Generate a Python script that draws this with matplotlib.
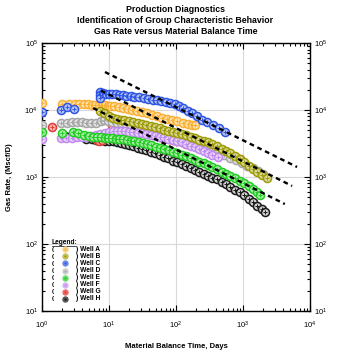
#!/usr/bin/env python3
# -*- coding: utf-8 -*-
"""
Production diagnostics: gas rate versus material balance time, log-log
"""

import matplotlib
matplotlib.use("Agg")
import matplotlib.pyplot as plt
from matplotlib.ticker import LogLocator, NullFormatter

plt.rcParams['font.family'] = ['Liberation Sans', 'DejaVu Sans']
plt.rcParams['mathtext.default'] = 'regular'

# --- data ---
wells = ['Well A', 'Well B', 'Well C', 'Well D', 'Well E', 'Well F', 'Well G', 'Well H']

A_x = [1, 2, 2.5, 3.1, 3.6, 4.2, 4.8, 5.5, 6.2, 7, 7.8, 8.6, 9.5, 10.5, 12, 14,
       16, 19, 22, 26, 31, 37, 44, 52, 62, 74, 88, 105, 125, 150, 175, 195]
A_y = [12700, 12500, 12400, 12300, 12200, 12200, 12100, 12000, 12000, 11900,
       11800, 11700, 11600, 11500, 11300, 11000, 10700, 10400, 10000, 9700, 9300,
       8900, 8500, 8100, 7700, 7400, 7100, 6800, 6500, 6200, 6000, 5900]

B_x = [7.3, 8.5, 10, 11.5, 13, 15, 17, 20, 23, 27, 31, 36, 42, 49, 57, 66, 77, 90,
       105, 122, 142, 165, 192, 224, 260, 300, 350, 410, 480, 560, 650, 760, 890,
       1040, 1210, 1410, 1640, 1920, 2280]
B_y = [9800, 9000, 8000, 7600, 7400, 7200, 7000, 6800, 6600, 6400, 6200, 6000,
       5700, 5500, 5300, 5100, 4900, 4700, 4550, 4400, 4200, 4000, 3800, 3600,
       3450, 3300, 3100, 2900, 2650, 2450, 2250, 2050, 1850, 1650, 1480, 1330,
       1200, 1080, 966]

C_x = [1, 1.9, 2.4, 3.0, 7.3, 7.3, 7.4, 8.2, 9, 10, 11, 12.5, 14, 16, 18, 21, 24,
       28, 33, 38, 45, 52, 60, 70, 81, 95, 110, 127, 150, 175, 205, 244, 290, 356,
       440, 540]
C_y = [9300, 10000, 11100, 10300, 18600, 16500, 15000, 17800, 17500, 17400,
       17300, 17100, 16900, 16700, 16400, 16100, 15800, 15500, 15100, 14700,
       14300, 13900, 13500, 13000, 12700, 12200, 11500, 10700, 9800, 9000, 8100,
       7100, 6600, 6000, 5300, 4700]

D_x = [1, 1.9, 2.4, 2.8, 3.3, 3.9, 4.6, 5.4, 6.4, 7.5, 8.5, 9.5, 11, 13, 15, 18,
       21, 25, 30, 36, 43, 52, 62, 75, 90, 108, 130, 160, 195, 240, 290, 350, 430,
       520, 640, 780, 950, 1150, 1400, 1700, 2000]
D_y = [6000, 6300, 6500, 6600, 6700, 6600, 6500, 6400, 6500, 6800, 7100, 6900,
       6700, 6500, 6300, 6100, 5900, 5700, 5500, 5300, 5100, 4900, 4600, 4400,
       4100, 3900, 3700, 3450, 3200, 3000, 2750, 2550, 2350, 2150, 1950, 1780,
       1620, 1470, 1340, 1220, 1120]

E_x = [1, 2, 2.9, 3.5, 4.2, 5, 5.8, 6.7, 7.6, 8.6, 9.7, 11, 12.5, 14, 16, 18.5,
       21, 24, 28, 32, 37, 43, 50, 58, 67, 78, 90, 105, 122, 142, 165, 192, 224,
       260, 300, 350, 410, 480, 560, 650, 760, 890, 1040, 1210, 1410, 1620, 1790]
E_y = [4700, 4500, 4700, 4500, 4200, 4100, 4000, 3950, 3900, 3850, 3800, 3780,
       3750, 3700, 3650, 3600, 3500, 3400, 3300, 3200, 3100, 3000, 2850, 2750,
       2600, 2500, 2400, 2300, 2150, 2050, 1900, 1800, 1700, 1600, 1500, 1400,
       1300, 1200, 1120, 1040, 960, 880, 800, 730, 660, 590, 535]

F_x = [1, 1.9, 2.3, 2.8, 3.3, 3.9, 4.6, 5.4, 6.3, 7.4, 8.6, 10, 11.5, 13, 15,
       17.5, 20, 23, 27, 31, 36, 42, 49, 57, 66, 77, 90, 105, 122, 142, 165, 192,
       224, 260, 300, 350, 420]
F_y = [3700, 3800, 3800, 3850, 3900, 3950, 4000, 4100, 4200, 4350, 4500, 4700,
       4800, 4850, 4850, 4800, 4750, 4700, 4600, 4500, 4400, 4300, 4150, 4000,
       3900, 3750, 3600, 3450, 3300, 3100, 2950, 2800, 2600, 2450, 2300, 2150, 2000]

G_x = [1.4, 6.6, 7.2, 7.8, 11, 12.5, 14, 16, 18.5, 21, 24, 28, 32, 37, 43, 50,
       58, 67, 78, 90, 105, 122, 142, 165, 192, 224, 260, 300, 350, 410, 480, 560,
       650, 760, 890]
G_y = [5600, 3550, 3500, 3550, 6000, 5900, 5800, 5700, 5550, 5400, 5200, 5000,
       4800, 4600, 4400, 4200, 4000, 3850, 3700, 3550, 3400, 3300, 3150, 3050,
       2950, 2850, 2750, 2650, 2550, 2450, 2350, 2250, 2150, 2000, 1850]

H_x = [2.2, 4.5, 5.5, 6.5, 7.6, 8.8, 10, 11.5, 13, 15, 17.5, 20, 23, 27, 31, 36,
       42, 49, 57, 66, 77, 90, 105, 122, 142, 165, 192, 224, 260, 300, 350, 410,
       480, 560, 650, 760, 890, 1040, 1210, 1410, 1640, 1900, 2140]
H_y = [4100, 3700, 3650, 3600, 3550, 3500, 3450, 3400, 3300, 3200, 3100, 3000,
       2900, 2750, 2650, 2500, 2350, 2250, 2100, 2000, 1900, 1750, 1650, 1550,
       1450, 1350, 1280, 1200, 1120, 1050, 980, 920, 850, 780, 710, 650, 590,
       530, 470, 420, 370, 330, 300]

# group trend lines (end points)
trend_x = [[8.7, 6400], [7.6, 5400], [5.8, 4200]]
trend_y = [[36900, 1410], [19500, 735], [10700, 395]]

colors = {'Well A': '#FBB035', 'Well B': '#9E9C05', 'Well C': '#2F55E3',
          'Well D': '#A6A6A6', 'Well E': '#22CC22', 'Well F': '#C08AEE',
          'Well G': '#E23A35', 'Well H': '#1A1A1A'}
fill_colors = {'Well A': '#FCE3AE', 'Well B': '#D8D79A', 'Well C': '#B5C3F4',
               'Well D': '#E2E2E2', 'Well E': '#A8EBA8', 'Well F': '#E6D2F8',
               'Well G': '#F4B3B1', 'Well H': '#D0D0D0'}
legend_colors = {'Well A': '#F6D387', 'Well B': '#C2C15A', 'Well C': '#6A8CE6',
                 'Well D': '#CFCFCF', 'Well E': '#66DD66', 'Well F': '#D8B5F2',
                 'Well G': '#EC6A66', 'Well H': '#555555'}
series = {'Well A': (A_x, A_y), 'Well B': (B_x, B_y), 'Well C': (C_x, C_y),
          'Well D': (D_x, D_y), 'Well E': (E_x, E_y), 'Well F': (F_x, F_y),
          'Well G': (G_x, G_y), 'Well H': (H_x, H_y)}
draw_order = ['Well H', 'Well G', 'Well D', 'Well F', 'Well E', 'Well A',
              'Well B', 'Well C']

fig = plt.figure(figsize=(3.51, 3.54), dpi=100)
ax = fig.add_axes([0.1197, 0.1215, 0.7636, 0.757])

for w in draw_order:
    x, y = series[w]
    c = colors[w]
    ax.plot(x, y, 'o', ms=5.8, mfc=fill_colors[w], mec=c, mew=1.1, zorder=3)
    ax.plot(x, y, '+', ms=2.8, color=c, mew=0.7, zorder=3)

for lx, ly in zip(trend_x, trend_y):
    ax.plot(lx, ly, color='black', lw=1.7, dashes=(2.0, 1.6), zorder=4)

ax.set_xscale('log')
ax.set_yscale('log')
ax.set_xlim(1, 1e4)
ax.set_ylim(10, 1e5)
ax.grid(True, which='major', color='#D9D9D9', lw=0.8)
ax.set_axisbelow(True)
for s in ax.spines.values():
    s.set_linewidth(1.0)

ax.xaxis.set_major_locator(LogLocator(base=10, numticks=10))
ax.yaxis.set_major_locator(LogLocator(base=10, numticks=10))
ax.xaxis.set_minor_locator(LogLocator(base=10, subs=range(2, 10), numticks=20))
ax.yaxis.set_minor_locator(LogLocator(base=10, subs=range(2, 10), numticks=20))
ax.xaxis.set_minor_formatter(NullFormatter())
ax.yaxis.set_minor_formatter(NullFormatter())
ax.tick_params(which='both', direction='in', top=True, right=True,
               labelright=True, labelsize=5.5, width=0.8)
ax.tick_params(axis='x', which='major', pad=6)
ax.tick_params(axis='y', which='major', pad=3)
ax.tick_params(which='major', length=4)
ax.tick_params(which='minor', length=2.5)

ax.set_xlabel('Material Balance Time, Days', fontsize=5.5, fontweight='bold',
              labelpad=9)
ax.set_ylabel('Gas Rate, (Mscf/D)', fontsize=5.5, fontweight='bold', labelpad=8)

fig.text(0.5, 0.972, 'Production Diagnostics', ha='center', va='center',
         fontsize=6.3, fontweight='bold')
fig.text(0.5, 0.942, 'Identification of Group Characteristic Behavior',
         ha='center', va='center', fontsize=6.3, fontweight='bold')
fig.text(0.5, 0.912, 'Gas Rate versus Material Balance Time', ha='center',
         va='center', fontsize=6.3, fontweight='bold')

# hand-made legend in the lower left corner
lx0, ly0, dy = 0.037, 0.257, 0.0265
ax.text(lx0, ly0, 'Legend:', transform=ax.transAxes, fontsize=4.8,
        fontweight='bold', va='center')
ax.plot([lx0, lx0 + 0.085], [ly0 - 0.014, ly0 - 0.014], color='black', lw=0.5,
        transform=ax.transAxes)
for i, w in enumerate(wells):
    yy = ly0 - (i + 1) * dy
    ax.text(lx0, yy, '(', transform=ax.transAxes, fontsize=4.5,
            fontweight='bold', va='center')
    ax.plot([lx0 + 0.05], [yy], 'o', ms=3.6, mfc=legend_colors[w],
            mec=legend_colors[w], transform=ax.transAxes, zorder=5)
    ax.plot([lx0 + 0.05], [yy], '.', ms=1.2, color=colors[w],
            transform=ax.transAxes, zorder=6)
    ax.text(lx0 + 0.088, yy, ') ' + w, transform=ax.transAxes, fontsize=4.8,
            fontweight='bold', va='center')

fig.savefig('out.png', dpi=100)
